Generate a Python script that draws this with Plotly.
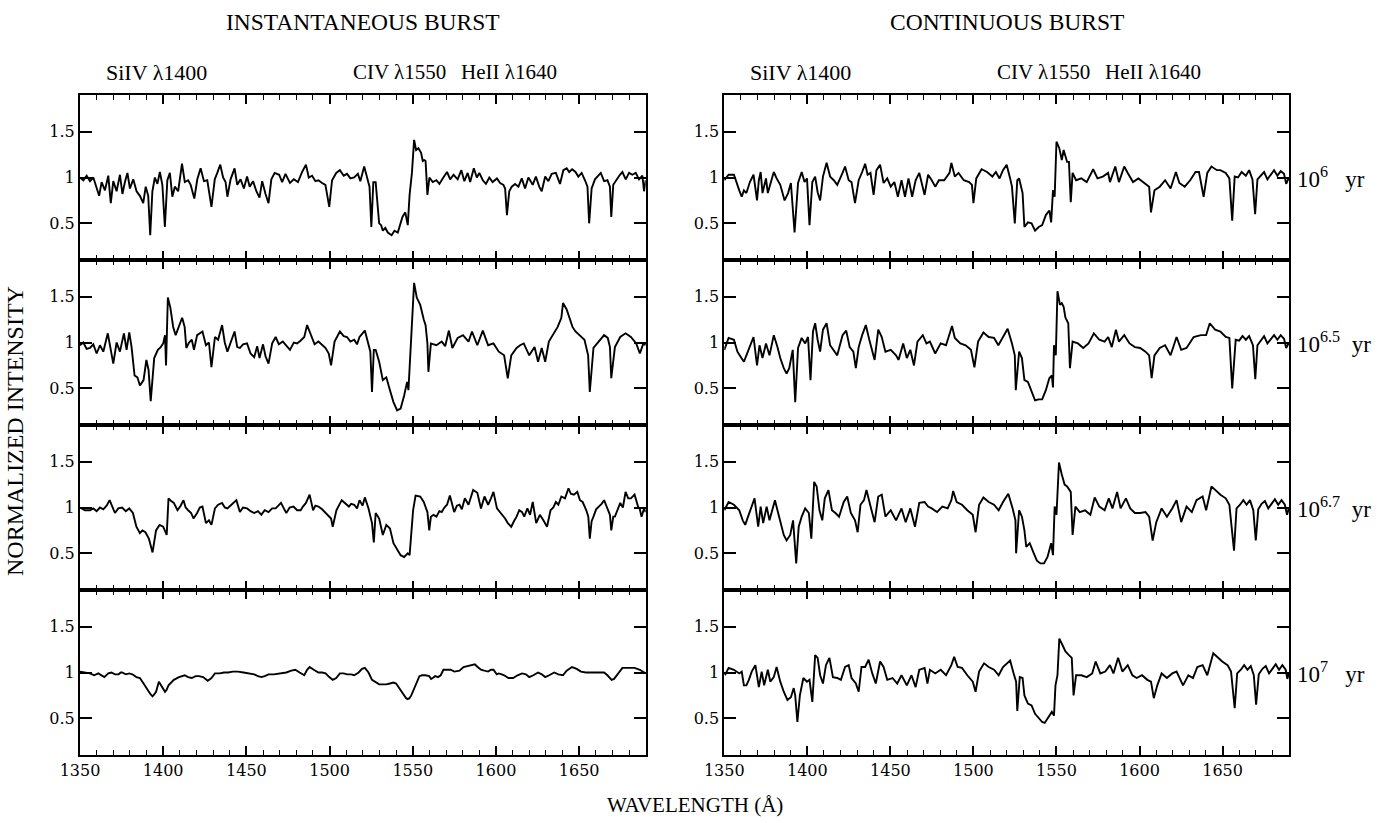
import plotly.graph_objects as go

# ---------------- data (wavelength in Angstrom, normalized intensity) ----------------
INST_6 = [(1350,1.00),(1352,0.97),(1354,1.02),(1356,0.96),(1358,1.00),(1360,0.88),(1361.5,0.80),(1363,0.95),(1365,0.86),(1367,1.02),(1368.5,0.72),(1370,0.96),(1372,0.85),(1374,1.03),(1375.5,0.82),(1377,0.95),(1378.5,1.05),(1380,0.88),(1382,0.98),(1384,0.85),(1386,0.80),(1388,0.72),(1389.5,0.90),(1391,0.80),(1392.2,0.37),(1393.5,0.85),(1395,1.00),(1396.5,0.93),(1398,1.06),(1399.5,0.92),(1401,0.46),(1402.5,0.97),(1404,1.05),(1405.5,0.79),(1407,0.90),(1409,0.85),(1411.3,1.15),(1413,0.95),(1415,0.97),(1416.5,0.92),(1418.7,0.77),(1420.5,0.98),(1422.5,1.10),(1424.5,0.96),(1426.5,0.97),(1429,0.68),(1431,0.98),(1432.5,1.05),(1434.3,1.14),(1436,1.00),(1437.5,0.95),(1438.6,0.79),(1440.5,0.98),(1442.9,1.10),(1444.5,0.92),(1446.5,0.98),(1448.5,0.88),(1450.4,1.01),(1452,0.90),(1454,0.96),(1456,0.85),(1457.9,0.78),(1459.5,0.96),(1461.5,0.82),(1463.3,0.72),(1465,0.98),(1467,1.05),(1469.7,1.03),(1471.5,0.95),(1473.5,1.04),(1476.2,0.94),(1478.5,0.98),(1481,0.95),(1483.5,1.06),(1485.8,1.14),(1487.5,1.00),(1489.5,1.02),(1491.5,0.96),(1493.3,0.97),(1495.5,0.94),(1497.5,0.92),(1499.8,0.68),(1501.5,0.97),(1504,1.05),(1506.2,1.08),(1508.5,1.02),(1510.5,1.04),(1512.5,0.99),(1514.8,1.00),(1517,1.04),(1518.5,0.96),(1520.8,1.12),(1522.5,1.00),(1524,0.90),(1525.1,0.46),(1526.3,0.95),(1527.7,0.95),(1529,0.70),(1529.8,0.50),(1531,0.48),(1532,0.42),(1533.5,0.45),(1535,0.40),(1537.3,0.37),(1539,0.42),(1541,0.40),(1543,0.52),(1543.8,0.57),(1545.5,0.62),(1547,0.48),(1548.1,0.81),(1549.5,1.05),(1550.8,1.41),(1552,1.30),(1553.4,1.32),(1555,1.27),(1556,1.18),(1557,1.19),(1557.7,1.18),(1558.8,0.81),(1560,1.00),(1562,0.95),(1564.2,0.97),(1566,0.93),(1568,0.99),(1570.6,1.06),(1572.5,0.98),(1574.5,1.03),(1577,0.98),(1579.2,1.08),(1581,0.96),(1583,1.05),(1584.5,0.95),(1586.7,1.10),(1588.5,1.00),(1590,1.05),(1592.1,0.97),(1594,0.93),(1596,1.00),(1598,0.95),(1600.6,0.99),(1602.5,0.94),(1604.5,0.92),(1605.5,0.88),(1606.6,0.59),(1608,0.85),(1609.5,0.90),(1611.5,0.93),(1613.5,0.90),(1615.5,0.99),(1617.5,0.88),(1619.5,1.00),(1622.1,0.92),(1624,1.01),(1626,0.90),(1627.5,0.85),(1629.6,1.01),(1631.5,0.96),(1633.5,1.04),(1636,1.05),(1638.5,0.93),(1640.5,1.08),(1642.5,1.10),(1644,1.06),(1645.8,1.09),(1647.8,1.06),(1649.5,1.01),(1651.5,1.05),(1653.5,0.97),(1655,0.90),(1656,0.50),(1657.5,0.88),(1659.5,0.98),(1661.5,1.02),(1663,1.05),(1665,0.96),(1667,0.97),(1668.5,0.90),(1669.3,0.57),(1670.5,0.92),(1672.5,0.98),(1674.5,1.03),(1676,1.06),(1678,0.98),(1680,1.05),(1682,1.03),(1684,1.05),(1686,0.98),(1688,1.02),(1689,0.85),(1690,0.97)]

INST_65 = [(1350,0.97),(1352,1.00),(1354,0.93),(1356,0.94),(1358,0.98),(1360,0.88),(1362,0.97),(1364,0.90),(1366.7,1.10),(1368,0.95),(1370,0.77),(1372,1.00),(1374,0.90),(1376.4,1.10),(1378,0.92),(1379.6,1.11),(1381,0.95),(1382.8,0.64),(1384.5,0.62),(1386,0.53),(1388.2,0.59),(1389.9,0.81),(1391.2,0.70),(1392.5,0.36),(1394.6,0.83),(1396.8,0.92),(1398.5,0.95),(1400,0.99),(1401.1,1.08),(1401.7,0.75),(1402.8,1.49),(1404.3,1.38),(1406,1.17),(1407.5,1.08),(1409.2,1.17),(1411.4,1.27),(1412.9,1.17),(1413.9,0.94),(1415.5,1.00),(1417.2,1.03),(1418.5,0.92),(1420.4,1.08),(1423.6,1.12),(1425.7,0.97),(1427.5,1.00),(1429,0.73),(1431.1,1.06),(1433,1.03),(1435.4,1.19),(1437,1.00),(1438.6,0.90),(1441,1.02),(1442.9,1.12),(1444.5,0.95),(1446.1,0.94),(1448,0.98),(1450.4,0.99),(1452.5,0.88),(1454.7,0.84),(1456.5,0.96),(1457.9,0.83),(1460,0.98),(1461.5,0.85),(1463.3,0.77),(1465.5,0.99),(1467.6,1.06),(1469.5,0.98),(1471.9,1.01),(1474,0.96),(1476.2,0.92),(1478.5,1.00),(1480.5,0.99),(1482.5,1.02),(1484.8,1.06),(1486.5,1.19),(1489,1.08),(1491,0.98),(1493.3,1.01),(1495.5,0.97),(1497.6,0.94),(1499.5,0.88),(1500.9,0.75),(1503,1.01),(1506.2,1.12),(1508.5,1.07),(1510.5,1.06),(1512.5,1.01),(1514.8,1.03),(1516.5,0.98),(1518,1.06),(1521.2,1.13),(1523.4,0.97),(1524.5,0.90),(1525.5,0.46),(1526.6,0.92),(1527.7,0.92),(1529.8,0.79),(1532,0.59),(1534.1,0.62),(1536.3,0.48),(1538.4,0.35),(1540.6,0.26),(1542.7,0.28),(1544.8,0.42),(1546.6,0.57),(1547.4,0.48),(1548.5,0.86),(1549.8,1.16),(1550.8,1.65),(1552.4,1.49),(1554.5,1.41),(1556.6,1.25),(1557.7,1.19),(1558.8,0.99),(1559.4,0.68),(1560.9,0.99),(1564.2,0.97),(1567.4,1.01),(1569.5,0.96),(1571.7,1.13),(1573.8,0.94),(1577,1.05),(1580.2,1.08),(1583.5,1.01),(1585.6,1.12),(1588.8,0.97),(1592.1,1.13),(1595.3,0.97),(1598.5,0.99),(1601.7,0.90),(1604.9,0.86),(1607.1,0.61),(1609.2,0.86),(1612.4,0.94),(1614.5,0.97),(1616.7,0.99),(1620,0.86),(1623.2,0.95),(1625.3,0.79),(1627.5,0.94),(1629.6,0.79),(1631.8,1.01),(1635,1.10),(1637.1,1.17),(1639.3,1.27),(1640.3,1.43),(1642.5,1.36),(1644.6,1.23),(1646,1.17),(1647.8,1.12),(1650,1.08),(1653.2,1.03),(1655.4,0.86),(1656.4,0.46),(1658.6,0.94),(1661.8,1.01),(1665,1.08),(1667.2,1.05),(1668.5,0.95),(1669.3,0.61),(1671.5,0.95),(1674.7,1.06),(1677.9,1.10),(1681.1,1.06),(1684.3,0.99),(1686.5,0.88),(1688.6,0.99),(1690,0.97)]

INST_67 = [(1350,1.00),(1353,0.97),(1356,0.97),(1358,0.99),(1360,0.96),(1362,1.00),(1364,0.98),(1366,1.02),(1367.8,1.08),(1369.5,1.00),(1371,0.94),(1373,0.99),(1375.3,1.00),(1377.5,0.96),(1379.6,0.99),(1381.8,0.94),(1383.9,0.79),(1386,0.72),(1387.5,0.75),(1389.3,0.73),(1391.4,0.66),(1393.6,0.51),(1395.7,0.75),(1397.8,0.81),(1400,0.79),(1402.1,0.70),(1403.2,1.10),(1404.8,1.07),(1406.4,1.05),(1408.6,0.97),(1410.5,1.02),(1412.2,1.08),(1413.5,1.00),(1415,0.97),(1416.8,0.94),(1418.2,0.88),(1420.4,0.94),(1422,1.00),(1423.6,1.01),(1425.7,0.83),(1427.5,0.86),(1429,0.81),(1431.1,0.99),(1433,1.03),(1435.4,1.05),(1437,1.00),(1438.6,0.99),(1441,1.03),(1444,1.08),(1446.1,0.95),(1448,1.00),(1450.4,0.99),(1452.5,0.96),(1454.7,0.94),(1457,0.96),(1459,0.92),(1461,0.97),(1463.3,0.95),(1465.5,0.99),(1467.6,0.99),(1469,1.02),(1470.8,1.05),(1472.5,0.99),(1474,0.94),(1476,1.00),(1478.3,1.01),(1480.5,0.97),(1482.6,0.97),(1484,1.01),(1485.8,1.05),(1488,1.14),(1490.1,0.97),(1491.5,1.02),(1493.3,1.01),(1495.5,0.98),(1497.6,0.94),(1499.5,0.90),(1500.9,0.88),(1501.9,0.79),(1504.1,0.97),(1507.3,1.08),(1509.5,1.04),(1511.6,1.01),(1513,1.04),(1514.8,1.03),(1516.5,0.99),(1518,1.08),(1519.8,1.02),(1521.2,1.11),(1523.4,0.99),(1525.5,0.83),(1526.6,0.62),(1527.7,0.94),(1529.8,0.88),(1532,0.70),(1534.1,0.81),(1536.3,0.77),(1538.4,0.61),(1540.6,0.55),(1542.7,0.48),(1544.8,0.46),(1547,0.50),(1548.1,0.48),(1549.1,0.75),(1550.2,0.97),(1551.7,1.13),(1554.5,1.12),(1556.6,1.06),(1558.8,0.95),(1559.9,0.75),(1560.9,0.90),(1562.5,0.92),(1564.2,0.90),(1566,0.96),(1567.4,0.95),(1569,1.00),(1570.6,1.03),(1572.3,1.13),(1574.9,0.95),(1576.5,1.02),(1578.1,1.03),(1579.5,0.98),(1581.3,1.10),(1583.5,1.03),(1586.3,1.19),(1588.8,1.16),(1591,0.99),(1593.1,1.12),(1595.3,1.03),(1597,1.10),(1598.5,1.17),(1600.6,0.99),(1603.9,0.92),(1605.5,0.88),(1607.1,0.83),(1609.2,0.79),(1610.8,0.85),(1612.4,0.90),(1614,0.97),(1615.7,0.95),(1617,0.90),(1618.9,0.99),(1620.5,0.92),(1622.1,1.06),(1624.2,0.83),(1626.4,0.92),(1628.5,0.86),(1630.7,0.79),(1632.8,0.97),(1634.5,1.00),(1636,1.06),(1637.5,1.03),(1639.3,1.12),(1641.5,1.10),(1643.6,1.21),(1645,1.15),(1646.8,1.14),(1648.9,1.17),(1650.5,1.08),(1652.1,1.06),(1654.3,0.97),(1655.5,0.90),(1656.4,0.66),(1657.5,0.85),(1658.6,0.90),(1660.2,0.98),(1661.8,1.01),(1663.5,1.04),(1665,1.08),(1667.2,0.97),(1668.5,0.92),(1669.3,0.75),(1670.5,0.90),(1671.5,0.90),(1673,0.97),(1674.7,1.05),(1676.3,1.00),(1677.9,1.17),(1679.5,1.10),(1681.1,1.10),(1683.3,1.14),(1685.4,1.01),(1686.5,0.98),(1687.5,0.90),(1689,0.99),(1690,0.95)]

INST_7 = [(1350,1.01),(1353,1.00),(1356,0.99),(1358.5,0.97),(1361,0.99),(1364.6,0.95),(1367,0.99),(1368.9,1.00),(1371,0.98),(1373.2,0.98),(1374.5,1.00),(1375.3,1.00),(1377.5,0.98),(1379.6,0.99),(1381.5,0.98),(1383.9,0.95),(1386,0.94),(1388.2,0.88),(1390,0.82),(1391.4,0.79),(1392.5,0.76),(1393.6,0.74),(1394.6,0.76),(1395.7,0.79),(1397.4,0.90),(1398.9,0.86),(1400,0.82),(1401.1,0.79),(1402,0.81),(1403.2,0.86),(1406.4,0.92),(1409.5,0.95),(1412.9,0.97),(1415,0.95),(1417.2,0.94),(1419.5,0.96),(1421.5,0.96),(1424,0.95),(1426.8,0.91),(1429,0.94),(1431.1,0.99),(1434,0.99),(1436.5,1.00),(1439,1.00),(1441.8,1.01),(1445,1.01),(1448.3,1.00),(1451,0.99),(1454.7,0.98),(1457,0.96),(1459,0.95),(1461,0.96),(1463.3,0.98),(1466.5,0.98),(1469.7,0.99),(1472,0.99),(1474,1.00),(1477,1.02),(1479.4,1.03),(1482,1.00),(1484.8,0.97),(1486.5,1.03),(1488,1.06),(1490.5,1.03),(1493.3,1.00),(1495.5,1.00),(1497.6,0.99),(1499.8,0.95),(1501.9,0.92),(1504,0.94),(1506.2,0.99),(1508.5,0.99),(1510.5,0.98),(1513,0.98),(1514.8,0.97),(1517.5,1.00),(1519.5,1.04),(1521.2,1.05),(1523.4,1.00),(1525.5,0.92),(1527.5,0.90),(1529.8,0.87),(1532,0.87),(1534.1,0.87),(1536.3,0.88),(1538.4,0.89),(1540,0.88),(1541.6,0.84),(1543.2,0.79),(1544.8,0.75),(1546,0.72),(1547,0.71),(1548,0.72),(1549.1,0.75),(1550.8,0.82),(1552.4,0.90),(1554,0.96),(1555.6,0.97),(1557.5,0.97),(1559.9,0.96),(1561,0.93),(1562,0.94),(1563.5,0.96),(1565.2,0.95),(1566.8,0.97),(1568.4,1.03),(1570.5,1.03),(1572.7,1.03),(1575,1.01),(1578.1,1.02),(1580.5,1.06),(1583.5,1.07),(1585,1.08),(1587.3,1.09),(1589,1.06),(1591,1.03),(1593,1.02),(1595.3,1.01),(1597,1.03),(1598.5,1.03),(1600.5,0.98),(1601.7,0.99),(1603.5,0.98),(1604.9,0.97),(1607.5,0.94),(1610.3,0.94),(1613,0.97),(1615.7,0.99),(1618,0.98),(1620,0.95),(1622.5,0.97),(1625.3,1.00),(1627.5,0.98),(1629.6,0.95),(1632,0.97),(1635,1.00),(1637.5,0.98),(1640.3,0.97),(1642.5,1.02),(1645.7,1.06),(1648.5,1.04),(1651.1,1.01),(1654,1.00),(1656.4,1.00),(1660,1.00),(1663,1.00),(1665,1.00),(1667,0.97),(1668.2,0.94),(1669.5,0.92),(1671,0.93),(1672.5,0.97),(1673.6,1.00),(1676,1.05),(1677.9,1.05),(1681,1.05),(1683.3,1.05),(1686.5,1.03),(1689,1.00),(1690,0.99)]

CONT_6 = [(1350,0.97),(1352.6,1.03),(1355.8,1.03),(1357.9,0.90),(1359,0.86),(1360.5,0.79),(1361.8,0.86),(1363.3,0.83),(1365.4,0.95),(1367.6,1.03),(1369.7,0.75),(1370.8,0.97),(1371.9,1.06),(1373,0.83),(1375.1,0.99),(1376.2,0.83),(1378.3,0.95),(1379.8,1.06),(1381.5,0.99),(1383.7,0.92),(1386.3,0.75),(1388.4,0.83),(1390.1,0.94),(1392.3,0.40),(1394.4,0.94),(1396.6,1.06),(1398.3,0.95),(1399.8,0.99),(1401.3,0.48),(1403,0.95),(1404.7,1.01),(1406.2,0.84),(1407.7,0.75),(1409.4,1.01),(1411.6,1.16),(1413.7,1.01),(1415.9,0.97),(1418,0.92),(1421.2,1.05),(1422.7,1.12),(1424.9,0.97),(1426.6,0.95),(1428.7,0.72),(1430.9,0.97),(1433,1.06),(1434.8,1.15),(1436.3,1.03),(1438,1.05),(1439.9,0.81),(1441.6,1.08),(1443.8,1.14),(1445.9,0.94),(1448.1,0.99),(1450.2,0.90),(1452.4,0.95),(1454.5,0.79),(1456.7,0.97),(1458.8,0.79),(1460.9,0.99),(1463.1,0.79),(1465.2,0.97),(1467.4,1.05),(1470.6,0.81),(1472.7,1.03),(1474.9,0.97),(1477,0.90),(1479.2,0.97),(1482.4,0.97),(1485.6,1.05),(1486.7,1.16),(1488.8,1.01),(1491,1.05),(1494.2,0.97),(1497.4,0.95),(1499.1,0.92),(1500,0.72),(1501.7,0.99),(1504.9,1.09),(1508.2,1.06),(1511.4,1.01),(1513.5,1.06),(1515.7,0.99),(1517.8,1.08),(1520,1.14),(1522.1,0.99),(1523.2,0.90),(1524.9,0.50),(1526.4,0.97),(1527.5,0.99),(1529.6,0.83),(1530.7,0.46),(1532.8,0.51),(1535,0.50),(1537.1,0.42),(1539.3,0.46),(1541.4,0.48),(1543.6,0.59),(1545.7,0.64),(1546.8,0.51),(1547.9,0.86),(1548.9,0.79),(1550,1.39),(1551.7,1.32),(1553.2,1.19),(1554.3,1.30),(1556.4,1.17),(1557.5,1.17),(1558.6,0.73),(1559.7,1.05),(1561.8,0.97),(1565,0.99),(1568.2,0.95),(1572.1,1.09),(1574.7,0.99),(1577.9,1.01),(1581.1,1.05),(1582.2,0.95),(1585.4,1.12),(1587.6,0.95),(1590.8,1.12),(1592.9,1.05),(1596.1,0.95),(1599.3,0.99),(1602.6,0.94),(1605.8,0.90),(1606.9,0.62),(1609,0.86),(1612.2,0.90),(1615.4,0.97),(1618.7,0.88),(1621.9,1.06),(1624,0.94),(1627.2,0.90),(1630.5,0.97),(1633.7,1.06),(1635.8,1.06),(1638.6,0.79),(1640.8,1.05),(1643.3,1.12),(1646.6,1.08),(1648.7,1.08),(1651.9,1.05),(1654.1,0.99),(1655.8,0.53),(1657.3,1.01),(1659.3,1.00),(1661.5,1.06),(1664,1.02),(1666,1.08),(1668,0.98),(1669.6,0.60),(1671,0.98),(1673,1.02),(1675,1.06),(1677,0.98),(1679,1.03),(1681,1.08),(1683,1.02),(1685,1.07),(1687,1.04),(1688.3,0.93),(1690,1.00)]

CONT_65 = [(1350,0.92),(1352.6,1.05),(1355.8,1.03),(1357.9,0.90),(1360,0.84),(1361.8,0.79),(1363.3,0.86),(1365.4,0.97),(1367.6,1.06),(1369.7,0.75),(1371.2,0.97),(1373,0.83),(1375.1,0.99),(1377.2,0.86),(1379.8,1.08),(1382,0.95),(1383.7,0.83),(1385.8,0.72),(1387.5,0.66),(1389.1,0.72),(1391.2,0.92),(1392.7,0.35),(1394.4,0.94),(1396.6,1.05),(1398.7,0.99),(1400.4,1.06),(1401.9,0.59),(1403.4,1.12),(1404.7,1.21),(1406.2,1.03),(1407.7,0.90),(1409.4,1.14),(1411.6,1.21),(1413.7,0.97),(1415.9,0.92),(1418,0.86),(1421.2,1.08),(1423.4,1.13),(1425.5,0.95),(1427.7,0.90),(1429.2,0.72),(1430.9,0.95),(1433,1.08),(1435.2,1.19),(1437.3,1.03),(1440.5,0.81),(1442.7,1.14),(1444.8,1.06),(1447,0.90),(1450.2,0.92),(1453.4,0.86),(1454.9,0.81),(1457.7,0.99),(1459.9,0.83),(1462,0.92),(1464.2,0.75),(1466.3,1.01),(1469.5,1.08),(1471.7,0.99),(1473.8,1.01),(1477,0.88),(1480.3,0.99),(1483.5,0.97),(1485.6,1.08),(1487.1,1.18),(1488.8,1.05),(1492.1,0.99),(1495.3,0.97),(1498.5,0.92),(1500.6,0.73),(1502.8,1.01),(1506,1.11),(1509.2,1.06),(1512.4,1.05),(1515,0.97),(1517.8,1.06),(1520.6,1.15),(1523.2,0.99),(1524.9,0.86),(1525.5,0.48),(1527.5,0.90),(1529.2,0.83),(1530.7,0.59),(1532.8,0.57),(1535,0.46),(1537.1,0.37),(1539.3,0.38),(1541.4,0.38),(1543.6,0.48),(1545.7,0.61),(1547.2,0.64),(1547.9,0.51),(1548.5,0.97),(1549.6,0.86),(1550.6,1.56),(1552.1,1.41),(1553.2,1.43),(1554.3,1.39),(1555.4,1.27),(1557.1,1.21),(1558.1,0.72),(1559.7,1.01),(1562.9,0.99),(1566.1,0.94),(1569.3,0.99),(1572.5,1.10),(1575.8,1.03),(1579,1.01),(1581.1,1.06),(1583.3,0.95),(1585.8,1.14),(1587.6,1.01),(1590.8,1.08),(1594,0.99),(1597.2,0.95),(1600.4,0.94),(1603.6,0.90),(1605.8,0.86),(1607.3,0.61),(1609,0.86),(1612.2,0.94),(1615.4,0.97),(1618.7,0.86),(1622.3,1.06),(1625.1,0.92),(1628.3,0.94),(1632.6,1.06),(1636.9,1.08),(1640.1,1.08),(1642.3,1.21),(1645.5,1.14),(1648.7,1.12),(1651.9,1.06),(1654.1,1.05),(1655.8,0.50),(1657.9,1.03),(1660,1.02),(1662,1.07),(1664,1.03),(1666,1.07),(1668.3,0.97),(1669.7,0.60),(1671,0.97),(1673,1.02),(1675,1.07),(1677,0.99),(1679,1.03),(1681,1.08),(1683,1.03),(1685,1.08),(1687,1.04),(1688.3,0.94),(1690,1.00)]

CONT_67 = [(1350,0.97),(1352.6,1.06),(1355.8,1.03),(1359,0.97),(1361.1,0.86),(1362.6,0.81),(1364.3,0.90),(1366.5,1.01),(1368.2,1.10),(1370.4,0.79),(1371.9,1.01),(1373.4,0.83),(1375.5,1.01),(1377.2,0.86),(1380.5,1.08),(1382,0.97),(1383.7,0.86),(1385.8,0.70),(1387.5,0.64),(1389.7,0.70),(1391.4,0.86),(1393.3,0.39),(1394.8,0.79),(1396.6,0.90),(1398.7,0.99),(1400.9,0.94),(1402.4,0.66),(1404.1,1.28),(1405.6,1.23),(1407.3,0.97),(1409,0.86),(1410.5,1.10),(1412.7,1.19),(1414.8,0.97),(1416.9,0.94),(1419.1,0.90),(1421.9,1.06),(1424,1.12),(1426.2,0.94),(1428.7,0.86),(1430.3,0.73),(1432,1.03),(1434.1,1.08),(1435.6,1.19),(1437.8,1.03),(1440.5,0.84),(1442.7,1.12),(1444.8,1.14),(1447,0.90),(1450.2,0.97),(1453.4,0.86),(1456.7,0.99),(1459.2,0.84),(1462,0.99),(1464.8,0.79),(1467.4,1.05),(1470.6,1.06),(1472.7,1.01),(1474.9,0.99),(1478.1,0.95),(1481.3,1.01),(1484.5,0.99),(1486.7,1.08),(1487.8,1.18),(1489.9,1.06),(1493.1,1.03),(1496.3,0.97),(1499.6,0.92),(1501.3,0.73),(1503.4,1.03),(1506,1.11),(1509.2,1.06),(1512.4,1.03),(1515.2,0.97),(1517.8,1.06),(1521,1.15),(1523.6,0.99),(1525.3,0.86),(1525.7,0.50),(1527.5,0.97),(1529.2,0.90),(1530.7,0.75),(1531.8,0.57),(1533.9,0.61),(1536.1,0.51),(1538.2,0.42),(1540.3,0.39),(1542.5,0.39),(1544.6,0.46),(1546.8,0.61),(1547.9,0.48),(1548.9,1.01),(1550,0.92),(1551.5,1.49),(1553.2,1.36),(1554.9,1.25),(1556.4,1.23),(1558.6,1.17),(1559.7,0.70),(1561.4,1.01),(1564,0.95),(1567.2,0.97),(1570.4,0.92),(1573,1.11),(1575.8,1.01),(1579,0.97),(1581.5,1.10),(1583.7,0.99),(1586.5,1.17),(1588.6,0.99),(1591.8,1.10),(1594.4,0.99),(1597.2,0.94),(1600.4,0.94),(1603.6,0.95),(1605.8,0.90),(1607.9,0.64),(1610.1,0.84),(1613.3,0.99),(1616.5,0.90),(1619.7,0.99),(1622.3,1.08),(1625.1,0.84),(1628.3,1.01),(1631.5,0.95),(1634.3,1.08),(1638,1.12),(1640.1,0.97),(1643.3,1.23),(1646.6,1.17),(1648.7,1.14),(1651.9,1.10),(1654.1,1.03),(1656.9,0.53),(1658.4,0.99),(1660.5,1.03),(1662.5,1.08),(1664.5,1.03),(1666.5,1.08),(1668.5,0.97),(1670,0.64),(1671.5,0.98),(1673.5,1.04),(1675.5,1.07),(1677.5,0.99),(1679.5,1.04),(1681.5,1.09),(1683.5,1.03),(1685.5,1.08),(1687.5,1.03),(1688.8,0.92),(1690,1.00)]

CONT_7 = [(1350.4,0.97),(1352.6,1.05),(1355.8,1.03),(1359,0.99),(1360.5,1.01),(1361.8,0.86),(1363.3,0.86),(1364.8,0.92),(1366.5,1.01),(1368.7,1.08),(1370.8,0.84),(1372.5,1.01),(1374,0.86),(1376.2,1.03),(1377.7,0.90),(1379.8,0.95),(1381.5,1.06),(1383.7,0.90),(1385.8,0.79),(1388,0.70),(1390.1,0.73),(1391.8,0.83),(1392.7,0.75),(1394,0.46),(1395.5,0.75),(1397.6,0.94),(1399.8,0.90),(1401.3,0.92),(1403,0.68),(1404.7,1.19),(1406.2,1.16),(1407.7,0.97),(1409.4,0.88),(1411.2,1.08),(1413.3,1.16),(1415.4,0.95),(1418,0.94),(1420.2,0.92),(1422.7,1.06),(1424.9,1.08),(1426.6,0.94),(1429.2,0.88),(1430.9,0.79),(1432.6,1.06),(1434.8,1.06),(1436.9,1.14),(1439.1,0.99),(1441.2,0.88),(1443.8,1.12),(1445.9,1.06),(1448.1,0.92),(1451.3,0.94),(1454.1,0.88),(1456.7,0.97),(1459.9,0.86),(1462.7,0.97),(1465.2,0.84),(1467.4,1.03),(1470.6,1.05),(1472.3,0.88),(1473.8,1.03),(1477,0.99),(1480.3,1.03),(1483.5,0.97),(1486.7,1.08),(1488.4,1.17),(1490.5,1.06),(1493.1,1.05),(1496.3,0.97),(1499.6,0.90),(1501.3,0.79),(1503.4,1.01),(1506.4,1.10),(1509.2,1.06),(1512.4,1.03),(1515.2,0.97),(1517.8,1.06),(1522.1,1.13),(1524.2,0.99),(1525.7,0.90),(1526.4,0.58),(1527.9,0.95),(1529.6,0.94),(1530.7,0.75),(1532.8,0.66),(1535,0.64),(1537.1,0.55),(1539.3,0.50),(1541.4,0.46),(1542.9,0.45),(1545.1,0.51),(1547.2,0.57),(1548.5,0.53),(1549.4,0.86),(1550.6,0.97),(1551.7,1.37),(1553.6,1.30),(1555.4,1.23),(1557.5,1.19),(1559.2,1.16),(1560.3,0.75),(1561.8,0.97),(1565,0.97),(1568.2,0.95),(1571.5,0.99),(1573.6,1.12),(1576.4,0.99),(1579.4,1.01),(1582.2,1.08),(1584.3,0.99),(1587.1,1.16),(1589.7,1.01),(1592.9,1.08),(1595.7,0.97),(1598.3,0.94),(1601.5,0.97),(1604.7,0.92),(1606.9,0.90),(1608.6,0.72),(1610.7,0.86),(1613.3,0.99),(1616.5,0.94),(1619.7,0.99),(1622.3,1.01),(1626.2,0.86),(1629.4,0.97),(1632.2,0.94),(1634.8,1.06),(1638,1.08),(1640.8,0.97),(1644.4,1.21),(1647.2,1.16),(1649.8,1.12),(1653,1.08),(1655.1,1.01),(1657.3,0.61),(1658.8,0.99),(1661,1.03),(1663,1.08),(1665,1.03),(1667,1.07),(1668.8,0.97),(1670.2,0.65),(1671.8,0.98),(1674,1.04),(1676,1.07),(1678,0.99),(1680,1.04),(1682,1.09),(1684,1.03),(1686,1.08),(1688,1.03),(1689,0.93),(1690,1.00)]

COLUMN_TITLES = ["INSTANTANEOUS BURST", "CONTINUOUS BURST"]
LINE_LABELS = [("SiIV \u03bb1400", 1396, 22), ("CIV \u03bb1550", 1542, 21), ("HeII \u03bb1640", 1608, 21)]
AGE_LABELS = ["10<sup>6</sup>\u00a0\u00a0 yr", "10<sup>6.5</sup>\u00a0 yr", "10<sup>6.7</sup>\u00a0 yr", "10<sup>7</sup>\u00a0\u00a0 yr"]
X_TICKS = [1350, 1400, 1450, 1500, 1550, 1600, 1650]
Y_TICKS = [0.5, 1, 1.5]
Y_TICKTEXT = ["0.5", "1", "1.5"]

PANELS = [[INST_6, CONT_6], [INST_65, CONT_65], [INST_67, CONT_67], [INST_7, CONT_7]]

# ---------------- layout geometry ----------------
W, H = 1392, 823
xdom = [[80 / W, 645.7 / W], [724.3 / W, 1289 / W]]
top0, ph = 95, 165
ydom = [[1 - (top0 + ph * (k + 1)) / H, 1 - (top0 + ph * k) / H] for k in range(4)]

SERIF = "Liberation Serif"
TICKFONT = dict(family="DejaVu Serif", size=16, color="black")

fig = go.Figure()
layout = {}
for r in range(4):
    for c in range(2):
        idx = r * 2 + c + 1
        xa = "xaxis" if idx == 1 else f"xaxis{idx}"
        ya = "yaxis" if idx == 1 else f"yaxis{idx}"
        xr = "x" if idx == 1 else f"x{idx}"
        yr = "y" if idx == 1 else f"y{idx}"
        data = PANELS[r][c]
        fig.add_trace(go.Scatter(
            x=[p[0] for p in data], y=[p[1] for p in data],
            mode="lines", line=dict(color="black", width=1.9),
            xaxis=xr, yaxis=yr, showlegend=False, hoverinfo="skip"))
        layout[xa] = dict(
            domain=xdom[c], anchor=yr, range=[1350, 1690], automargin=False,
            tickvals=X_TICKS, ticks="inside", ticklen=9, tickwidth=1.5, tickcolor="black",
            minor=dict(dtick=10, tick0=1350, ticks="inside", ticklen=5, tickwidth=1.3, tickcolor="black"),
            showline=True, linewidth=2, linecolor="black", mirror="ticks",
            showgrid=False, zeroline=False, showticklabels=(r == 3),
            tickfont=TICKFONT, fixedrange=True)
        layout[ya] = dict(
            domain=ydom[r], anchor=xr, range=[0.1, 1.9], automargin=False,
            tickvals=Y_TICKS, ticktext=Y_TICKTEXT, ticks="inside", ticklen=12,
            tickwidth=1.5, tickcolor="black",
            showline=True, linewidth=2, linecolor="black", mirror="ticks",
            showgrid=False, zeroline=False, tickfont=TICKFONT, fixedrange=True)

annotations = []
# column titles
for c, t in enumerate(COLUMN_TITLES):
    annotations.append(dict(text=t, xref="paper", yref="paper",
                            x=(xdom[c][0] + xdom[c][1]) / 2, y=1 - 22 / H,
                            xanchor="center", yanchor="middle", showarrow=False,
                            font=dict(family=SERIF, size=23.5, color="black")))
# line identifications
for c in range(2):
    xr = "x" if c == 0 else "x2"
    for txt, wl, fs in LINE_LABELS:
        annotations.append(dict(text=txt, xref=xr, yref="paper", x=wl, y=1 - 72 / H,
                                xanchor="center", yanchor="middle", showarrow=False,
                                font=dict(family=SERIF, size=fs, color="black")))
# age labels
for r, t in enumerate(AGE_LABELS):
    idx = r * 2 + 2
    annotations.append(dict(text=t, xref="paper", yref=f"y{idx}", x=1295 / W, y=1.0,
                            xanchor="left", yanchor="middle", showarrow=False,
                            font=dict(family=SERIF, size=23, color="black")))
# axis titles
annotations.append(dict(text="NORMALIZED INTENSITY", xref="paper", yref="paper",
                        x=15 / W, y=1 - 431 / H, textangle=-90, xanchor="center",
                        yanchor="middle", showarrow=False,
                        font=dict(family=SERIF, size=24, color="black")))
annotations.append(dict(text="WAVELENGTH (\u00c5)", xref="paper", yref="paper",
                        x=695 / W, y=1 - 805 / H, xanchor="center", yanchor="middle",
                        showarrow=False, font=dict(family=SERIF, size=21, color="black")))

fig.update_layout(**layout)
fig.update_layout(width=W, height=H, margin=dict(l=0, r=0, t=0, b=0, autoexpand=False),
                  paper_bgcolor="white", plot_bgcolor="white",
                  annotations=annotations, showlegend=False)
fig.write_html("out.html")
